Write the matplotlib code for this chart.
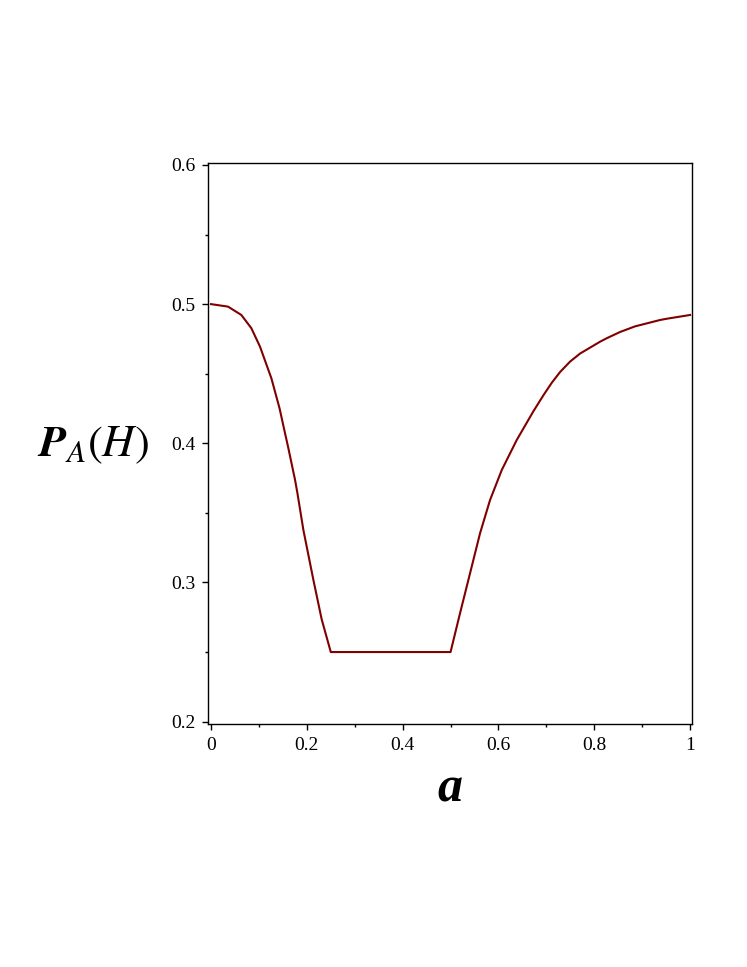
import matplotlib
matplotlib.use("Agg")
import matplotlib.pyplot as plt
from matplotlib.ticker import MultipleLocator

# values
a_vals = [0.0, 0.0355, 0.0633, 0.0842, 0.1023, 0.126, 0.143, 0.1545, 0.1608, 0.1754, 0.1802,
          0.1928, 0.2137, 0.231, 0.25,
          0.5, 0.5198, 0.5407, 0.5616, 0.5825, 0.6069, 0.6382, 0.6729, 0.6938, 0.7113, 0.7286,
          0.7495, 0.7704, 0.8121, 0.8261, 0.854, 0.885, 0.9374, 0.9513, 0.9965, 1.0]
p_vals = [0.5, 0.4982, 0.4922, 0.4827, 0.4694, 0.4467, 0.4252, 0.4072, 0.3975, 0.3737, 0.3645,
          0.3377, 0.3018, 0.2735, 0.25,
          0.25, 0.2779, 0.3066, 0.3354, 0.3593, 0.3808, 0.4024, 0.4230, 0.4345, 0.4435, 0.4512,
          0.4587, 0.4645, 0.4730, 0.4755, 0.4800, 0.4840, 0.4886, 0.4895, 0.4920, 0.4922]

x_ticks = [0, 0.2, 0.4, 0.6, 0.8, 1.0]
x_tick_labels = ["0", "0.2", "0.4", "0.6", "0.8", "1"]
y_ticks = [0.2, 0.3, 0.4, 0.5, 0.6]
y_tick_labels = ["0.2", "0.3", "0.4", "0.5", "0.6"]

plt.rcParams['font.family'] = ['Liberation Serif', 'DejaVu Serif']
plt.rcParams['mathtext.fontset'] = 'stix'

fig = plt.figure(figsize=(7.47, 9.67), dpi=100)
ax = fig.add_axes([208 / 747, 1 - 724 / 967, 484 / 747, 561 / 967])

ax.plot(a_vals, p_vals, color="#800000", linewidth=1.5, solid_joinstyle="round")

ax.set_xlim(-0.0063, 1.004)
ax.set_ylim(0.1983, 0.6014)
ax.set_xticks(x_ticks, labels=x_tick_labels)
ax.set_yticks(y_ticks, labels=y_tick_labels)
ax.xaxis.set_minor_locator(MultipleLocator(0.1))
ax.yaxis.set_minor_locator(MultipleLocator(0.05))
ax.tick_params(which="major", direction="out", length=4, width=1.0, labelsize=14, pad=5)
ax.tick_params(which="minor", direction="out", length=2.5, width=1.0)

for s in ax.spines.values():
    s.set_linewidth(1.0)

#axis labels are placed as figure text so they match the reference positions
fig.text(93 / 747, 1 - 445 / 967, r"$\mathbfit{P}_{A}\left(H\right)$", fontsize=32,
         ha="center", va="center")
fig.text(450 / 747, 1 - 790 / 967, "a", fontsize=36, fontweight="bold", fontstyle="italic",
         ha="center", va="center")

fig.savefig("out.png", dpi=100)
